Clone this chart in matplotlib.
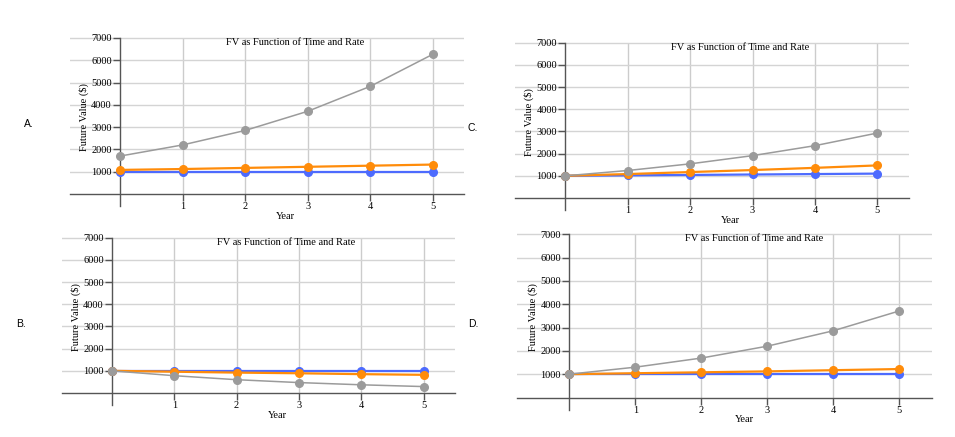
import numpy as np
import matplotlib
matplotlib.use("Agg")
import matplotlib.pyplot as plt

years = [0, 1, 2, 3, 4, 5]

# panel A
a_blue = [1000, 1000, 1000, 1000, 1000, 1000]
a_orange = [1080, 1120, 1170, 1220, 1270, 1320]
a_gray = [1700, 2200, 2850, 3710, 4830, 6270]
# panel B
b_blue = [1000, 1000, 1000, 1000, 1000, 1000]
b_orange = [1000, 960, 920, 890, 850, 820]
b_gray = [1000, 780, 600, 470, 370, 290]
# panel C
c_blue = [1000, 1020, 1040, 1060, 1080, 1100]
c_orange = [1000, 1080, 1170, 1260, 1360, 1470]
c_gray = [1000, 1240, 1540, 1910, 2360, 2930]
# panel D
d_blue = [1000, 1000, 1000, 1000, 1000, 1000]
d_orange = [1000, 1040, 1080, 1120, 1170, 1220]
d_gray = [1000, 1300, 1690, 2200, 2860, 3710]

y_ticks = [1000, 2000, 3000, 4000, 5000, 6000, 7000]
x_ticks = [1, 2, 3, 4, 5]
title = "FV as Function of Time and Rate"

W, H = 955, 437
fig = plt.figure(figsize=(W / 100, H / 100), dpi=100)
serif = "Liberation Serif"

BLUE = "#4d6bfe"
ORANGE = "#ff8c0a"
GRAY = "#9b9b9b"
XMIN, XMAX, YMIN, YMAX = -0.8, 5.5, -550, 7100


def panel(x0, sx, y0, sy, blue, orange, gray):
    left = x0 + XMIN * sx
    right = x0 + XMAX * sx
    top = y0 - YMAX / 1000 * sy
    bottom = y0 - YMIN / 1000 * sy
    ax = fig.add_axes([left / W, 1 - bottom / H, (right - left) / W, (bottom - top) / H])
    ax.set_xlim(XMIN, XMAX)
    ax.set_ylim(YMIN, YMAX)
    for s in ["top", "right"]:
        ax.spines[s].set_visible(False)
    ax.spines["left"].set_position(("data", 0))
    ax.spines["bottom"].set_position(("data", 0))
    ax.spines["left"].set_bounds(YMIN, 7000)
    for s in ["left", "bottom"]:
        ax.spines[s].set_color("#555555")
        ax.spines[s].set_linewidth(1)
    ax.set_xticks(x_ticks)
    ax.set_yticks(y_ticks)
    ax.tick_params(axis="both", direction="out", length=5, width=1, color="#555555",
                   labelsize=7.5, pad=1)
    for lab in ax.get_xticklabels() + ax.get_yticklabels():
        lab.set_family(serif)
    ax.grid(axis="y", color="#d4d4d4", lw=1)
    ax.vlines(x_ticks, 0, 7000, color="#cccccc", lw=1, zorder=0.5)
    ax.set_axisbelow(True)

    ax.plot(years, blue, color=BLUE, lw=1.6, marker="o", ms=5.5, zorder=3)
    ax.plot(years, orange, color=ORANGE, lw=1.6, marker="o", ms=5.5, zorder=4)
    ax.plot(years, gray, color=GRAY, lw=1.1, marker="o", ms=5.5, zorder=5)

    ax.text(2.8, 7000, title, ha="center", va="top", fontsize=7.5, family=serif)
    ax.annotate("Year", xy=(2.65, 0), xytext=(0, -16), textcoords="offset points",
                ha="center", va="center", fontsize=7.5, family=serif, annotation_clip=False)
    ax.annotate("Future Value ($)", xy=(0, 3430), xytext=(-26, 0), textcoords="offset points",
                ha="center", va="center", rotation=90, fontsize=7.5, family=serif,
                annotation_clip=False)
    return ax


panel(120, 62.6, 194, 22.3, a_blue, a_orange, a_gray)
panel(565.3, 62.4, 198, 22.17, c_blue, c_orange, c_gray)
panel(112, 62.3, 393, 22.17, b_blue, b_orange, b_gray)
panel(569.3, 66, 397.5, 23.33, d_blue, d_orange, d_gray)

for lbl, x, y in [("A.", 29, 124), ("C.", 473, 128), ("B.", 21, 324), ("D.", 473, 324)]:
    fig.text(x / W, 1 - y / H, lbl, ha="center", va="center", fontsize=7.5, family="Liberation Sans")

fig.savefig("out.png", dpi=100)
